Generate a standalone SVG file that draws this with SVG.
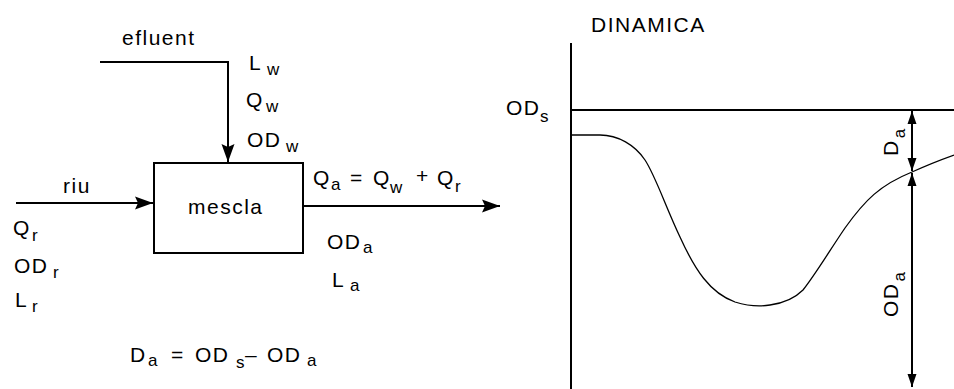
<svg xmlns="http://www.w3.org/2000/svg" width="954" height="389" viewBox="0 0 954 389">
<defs>
<style>
text{font-family:"Liberation Sans",Arial,sans-serif;fill:#000;letter-spacing:1.5px}
.m{font-size:21px}
.s{font-size:17px}
.ln{stroke:#000;stroke-width:2;fill:none}
.thin{stroke:#000;stroke-width:1.3;fill:none}
</style>
<marker id="arr" markerUnits="userSpaceOnUse" markerWidth="20" markerHeight="14" refX="18" refY="7" orient="auto"><path d="M0,0.5 L18,7 L0,13.5 L3,7 Z" fill="#000"/></marker>
<marker id="sm" markerUnits="userSpaceOnUse" markerWidth="14" markerHeight="10" refX="13" refY="5" orient="auto-start-reverse"><path d="M0,0.5 L13,5 L0,9.5 Z" fill="#000"/></marker>
</defs>
<rect width="954" height="389" fill="#fff"/>

<g id="connectors">
<path class="ln" d="M100,62 H228 V162" marker-end="url(#arr)"/>
<path class="ln" d="M16,203 H153" marker-end="url(#arr)"/>
<path class="ln" d="M303,206 H500" marker-end="url(#arr)"/>
</g>

<g id="node-mescla">
<rect class="ln" x="154" y="163" width="149" height="90"/>
<text class="m" x="188" y="214">mescla</text>
</g>

<g id="label-efluent">
<text class="m" x="122" y="45">efluent</text>
<text class="m" x="249" y="70">L<tspan class="s" x="267" y="75">w</tspan></text>
<text class="m" x="246" y="107">Q<tspan class="s" x="266" y="112">w</tspan></text>
<text class="m" x="247" y="147">OD<tspan class="s" x="286" y="152">w</tspan></text>
</g>

<g id="label-riu">
<text class="m" x="63" y="193">riu</text>
<text class="m" x="13" y="235">Q<tspan class="s" x="32" y="241">r</tspan></text>
<text class="m" x="14" y="273">OD<tspan class="s" x="53" y="278">r</tspan></text>
<text class="m" x="15" y="307">L<tspan class="s" x="32" y="312">r</tspan></text>
</g>

<g id="label-out">
<text class="m" x="313" y="185">Q<tspan class="s" x="331" y="190">a</tspan><tspan x="350" y="185">=</tspan><tspan x="373" y="185">Q</tspan><tspan class="s" x="390" y="193">w</tspan><tspan x="416" y="183">+</tspan><tspan x="437" y="185">Q</tspan><tspan class="s" x="455" y="192">r</tspan></text>
<text class="m" x="327" y="249">OD<tspan class="s" x="363" y="253">a</tspan></text>
<text class="m" x="332" y="287">L<tspan class="s" x="350" y="291">a</tspan></text>
</g>

<g id="label-eq">
<text class="m" x="130" y="362">D<tspan class="s" x="148" y="366">a</tspan><tspan x="171" y="362">=</tspan><tspan x="195" y="362">OD</tspan><tspan class="s" x="236" y="368">s</tspan><tspan x="245" y="362">–</tspan><tspan x="267" y="362">OD</tspan><tspan class="s" x="307" y="366">a</tspan></text>
</g>

<g id="chart">
<text class="m" x="591" y="32">DINAMICA</text>
<path class="ln" d="M571,43 V389"/>
<path class="ln" d="M571,110 H954"/>
<text class="m" x="506" y="115">OD<tspan class="s" x="540" y="122">s</tspan></text>
<path class="thin" d="M571,135 H600 C618,135 635,145 645,160 C655,175 665,205 680,237 C695,270 710,293 735,302 C748,306 758,307 770,305 C785,303 795,298 803,290 C815,275 830,250 845,228 C865,200 880,185 912,172 C925,166 940,160 954,155"/>
<path class="ln" d="M912,111 V171" marker-start="url(#sm)" marker-end="url(#sm)"/>
<path class="ln" d="M912,173 V387" marker-start="url(#sm)" marker-end="url(#sm)"/>
<text class="m" transform="translate(898,156) rotate(-90)">D<tspan class="s" dx="1" dy="7">a</tspan></text>
<text class="m" transform="translate(898,317) rotate(-90)">OD<tspan class="s" dx="1" dy="7">a</tspan></text>
</g>
</svg>
